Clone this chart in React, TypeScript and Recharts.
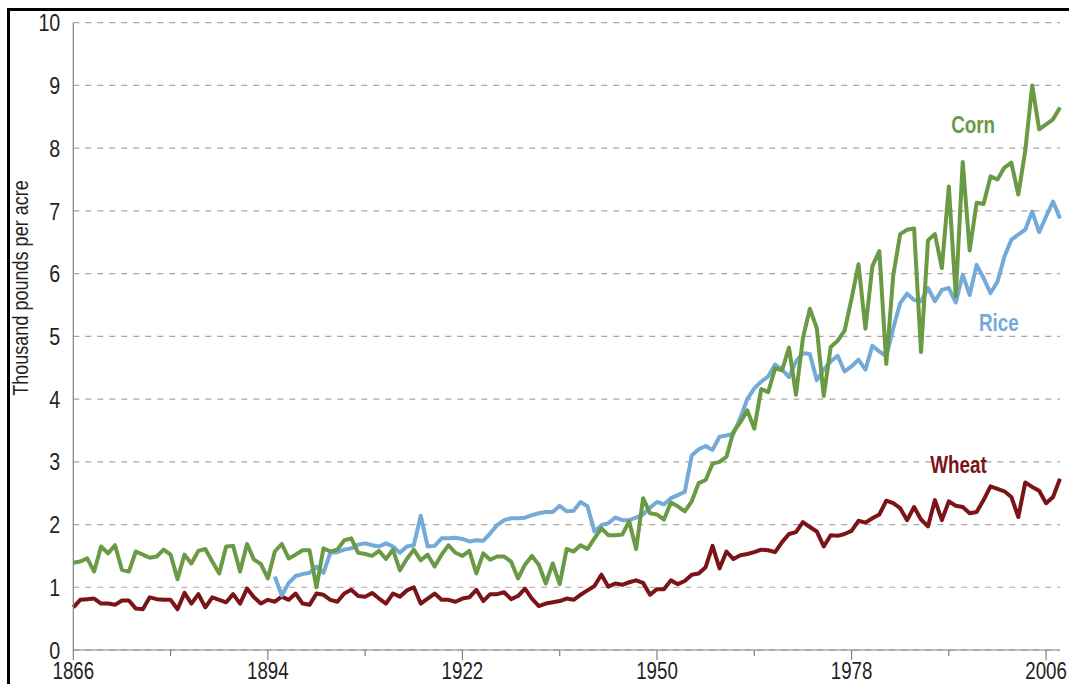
import { LineChart, Line, XAxis, YAxis, CartesianGrid, ReferenceDot } from "recharts";

// narrow look: Liberation Sans squeezed horizontally (no condensed face installed)
const FONT = '"Liberation Sans", Arial, sans-serif';
const SQUEEZE = 0.82;

const firstYear = 1866;
const riceFirstYear = 1895;

// thousand pounds per acre, one value per year from 1866
const corn = [
  1.39, 1.41, 1.46, 1.25, 1.65, 1.54, 1.67, 1.28, 1.25, 1.57,
  1.52, 1.47, 1.49, 1.6, 1.52, 1.13, 1.52, 1.38, 1.58, 1.61,
  1.41, 1.22, 1.65, 1.66, 1.25, 1.69, 1.44, 1.37, 1.14, 1.57,
  1.69, 1.46, 1.52, 1.59, 1.59, 1.0, 1.62, 1.57, 1.6, 1.75,
  1.78, 1.55, 1.53, 1.5, 1.58, 1.45, 1.6, 1.27, 1.45, 1.6,
  1.43, 1.52, 1.33, 1.52, 1.67, 1.55, 1.5, 1.58, 1.22, 1.54,
  1.44, 1.49, 1.49, 1.41, 1.14, 1.36, 1.5, 1.36, 1.06, 1.38,
  1.05, 1.61, 1.57, 1.67, 1.61, 1.78, 1.94, 1.83, 1.83, 1.84,
  2.05, 1.61, 2.42, 2.18, 2.16, 2.08, 2.35, 2.29, 2.21, 2.37,
  2.66, 2.71, 2.97, 3.0, 3.08, 3.48, 3.63, 3.82, 3.53, 4.16,
  4.11, 4.49, 4.46, 4.82, 4.07, 4.97, 5.44, 5.13, 4.05, 4.83,
  4.93, 5.09, 5.6, 6.15, 5.12, 6.12, 6.36, 4.56, 5.97, 6.63,
  6.7, 6.72, 4.75, 6.53, 6.63, 6.09, 7.39, 5.64, 7.78, 6.37,
  7.13, 7.11, 7.55, 7.5, 7.69, 7.77, 7.26, 7.96, 9.0, 8.3,
  8.38, 8.46, 8.65,
];

const wheat = [
  0.68, 0.8, 0.81, 0.82, 0.74, 0.74, 0.72, 0.79, 0.79, 0.66,
  0.65, 0.84, 0.81, 0.8, 0.8, 0.65, 0.91, 0.74, 0.89, 0.68,
  0.84, 0.8, 0.76, 0.89, 0.74, 0.98, 0.84, 0.74, 0.8, 0.77,
  0.85, 0.8, 0.9, 0.74, 0.72, 0.9, 0.88, 0.8, 0.77, 0.9,
  0.96, 0.86, 0.85, 0.91, 0.82, 0.74, 0.9, 0.85, 0.95, 1.0,
  0.74, 0.82, 0.9, 0.8, 0.8, 0.77, 0.82, 0.84, 0.96, 0.78,
  0.89, 0.89, 0.92, 0.81, 0.86, 0.98, 0.82, 0.7, 0.74, 0.76,
  0.78, 0.82, 0.8, 0.88, 0.95, 1.02, 1.2, 1.01, 1.06, 1.04,
  1.08, 1.11, 1.07, 0.88, 0.97, 0.97, 1.11, 1.05, 1.1, 1.2,
  1.22, 1.32, 1.66, 1.3, 1.57, 1.45, 1.51, 1.53, 1.56, 1.6,
  1.59, 1.56, 1.72, 1.85, 1.88, 2.04, 1.96, 1.89, 1.65, 1.83,
  1.82, 1.85, 1.9, 2.06, 2.03, 2.1, 2.16, 2.38, 2.34, 2.26,
  2.07, 2.28, 2.08, 1.97, 2.39, 2.07, 2.37, 2.3, 2.28, 2.18,
  2.2, 2.39, 2.61, 2.57, 2.53, 2.44, 2.12, 2.67, 2.6, 2.54,
  2.34, 2.44, 2.73,
];

// rice series starts in 1895
const rice = [
  1.17, 0.87, 1.07, 1.18, 1.21, 1.23, 1.33, 1.23, 1.55, 1.56,
  1.6, 1.62, 1.68, 1.7, 1.67, 1.65, 1.7, 1.65, 1.55, 1.65,
  1.67, 2.14, 1.65, 1.66, 1.78, 1.78, 1.79, 1.77, 1.73, 1.75,
  1.74, 1.86, 1.99, 2.07, 2.1, 2.1, 2.11, 2.15, 2.18, 2.2,
  2.2, 2.3, 2.21, 2.22, 2.36, 2.29, 1.89, 1.99, 2.02, 2.11,
  2.07, 2.07, 2.11, 2.16, 2.27, 2.36, 2.32, 2.42, 2.47, 2.52,
  3.1, 3.2, 3.25, 3.19, 3.4, 3.42, 3.45, 3.7, 4.0, 4.17,
  4.28, 4.36, 4.55, 4.47, 4.35, 4.6, 4.73, 4.72, 4.3, 4.47,
  4.6, 4.69, 4.44, 4.52, 4.63, 4.47, 4.85, 4.76, 4.68, 5.13,
  5.53, 5.68, 5.58, 5.56, 5.77, 5.56, 5.74, 5.77, 5.54, 5.98,
  5.66, 6.14, 5.93, 5.69, 5.87, 6.27, 6.54, 6.62, 6.7, 6.99,
  6.66, 6.91, 7.15, 6.88,
];

const xTicks = [1866, 1880, 1894, 1908, 1922, 1936, 1950, 1964, 1978, 1992, 2006];
const labeledYears = [1866, 1894, 1922, 1950, 1978, 2006];
const yTicks = [0, 1, 2, 3, 4, 5, 6, 7, 8, 9, 10];

const COLORS = { corn: "#6a9a43", rice: "#74aad8", wheat: "#7a1418" };
const INK = "#231f20";

const rows = corn.map((c, i) => {
  const year = firstYear + i;
  const r = year >= riceFirstYear ? rice[year - riceFirstYear] : null;
  return { year, corn: c, wheat: wheat[i], rice: r ?? null };
});

function YearTick({ x, y, payload }: any) {
  const major = labeledYears.includes(payload.value);
  return (
    <g>
      <line x1={x} x2={x} y1={y} y2={y + (major ? 10 : 6)} stroke="#808080" strokeWidth={1.2} />
      {major && (
        <text
          transform={`translate(${x},${y + 12}) scale(0.78,1)`}
          dy="0.72em"
          textAnchor="middle"
          fontSize={24}
          fill={INK}
          fontFamily={FONT}
        >
          {payload.value}
        </text>
      )}
    </g>
  );
}

function ValueTick({ x, y, payload }: any) {
  return (
    <text
      transform={`translate(${x},${y}) scale(${SQUEEZE},1)`}
      dy="0.36em"
      textAnchor="end"
      fontSize={24}
      fill={INK}
      fontFamily={FONT}
    >
      {payload.value}
    </text>
  );
}

function seriesLabel(text: string, color: string) {
  return (p: any) => (
    <text
      transform={`translate(${p.cx},${p.cy}) scale(${SQUEEZE},1)`}
      textAnchor="middle"
      dy="0.36em"
      fontSize={23}
      fontWeight={700}
      fill={color}
      fontFamily={FONT}
    >
      {text}
    </text>
  );
}

export default function App() {
  return (
    // fixed frame the size of the window, so the page never gets scrollbars
    <div style={{ position: "fixed", left: 0, top: 0, width: 1069, height: 684, overflow: "hidden", background: "#fff", fontFamily: FONT }}>
      <div style={{ position: "absolute", left: 8, top: 8, width: 1061, height: 676 }}>
        <LineChart width={1061} height={676} data={rows} margin={{ top: 14.7, right: 9, bottom: 0, left: 0 }}>
          <CartesianGrid vertical={false} stroke="#a6a6a6" strokeDasharray="6 6" strokeWidth={1.2} />
          <XAxis
            dataKey="year"
            type="number"
            domain={[1866, 2008]}
            ticks={xTicks}
            interval={0}
            height={34}
            axisLine={{ stroke: "#808080", strokeWidth: 1.2 }}
            tickLine={false}
            tickSize={0}
            tickMargin={0}
            tick={<YearTick />}
          />
          <YAxis
            domain={[0, 10]}
            ticks={yTicks}
            interval={0}
            width={65.3}
            axisLine={{ stroke: "#808080", strokeWidth: 1.2 }}
            tickLine={false}
            tickSize={6}
            tickMargin={7}
            tick={<ValueTick />}
            label={{
              content: () => (
                <text
                  transform={`translate(12,280) rotate(-90) scale(${SQUEEZE},1)`}
                  textAnchor="middle"
                  dy="0.36em"
                  fontSize={22}
                  fill={INK}
                  fontFamily={FONT}
                >
                  Thousand pounds per acre
                </text>
              ),
            }}
          />
          <Line dataKey="wheat" stroke={COLORS.wheat} strokeWidth={4} dot={false} isAnimationActive={false} strokeLinejoin="round" />
          <Line dataKey="rice" stroke={COLORS.rice} strokeWidth={4} dot={false} isAnimationActive={false} strokeLinejoin="round" />
          <Line dataKey="corn" stroke={COLORS.corn} strokeWidth={4} dot={false} isAnimationActive={false} strokeLinejoin="round" />
          <ReferenceDot x={1995.5} y={8.37} r={0} shape={seriesLabel("Corn", COLORS.corn)} />
          <ReferenceDot x={1999.2} y={5.22} r={0} shape={seriesLabel("Rice", COLORS.rice)} />
          <ReferenceDot x={1993.4} y={2.95} r={0} shape={seriesLabel("Wheat", COLORS.wheat)} />
        </LineChart>
        <div
          style={{
            position: "absolute",
            left: -1,
            top: 0,
            right: 0,
            bottom: 0,
            borderLeft: "3px solid #000",
            borderTop: "3px solid #000",
            pointerEvents: "none",
          }}
        />
      </div>
    </div>
  );
}
